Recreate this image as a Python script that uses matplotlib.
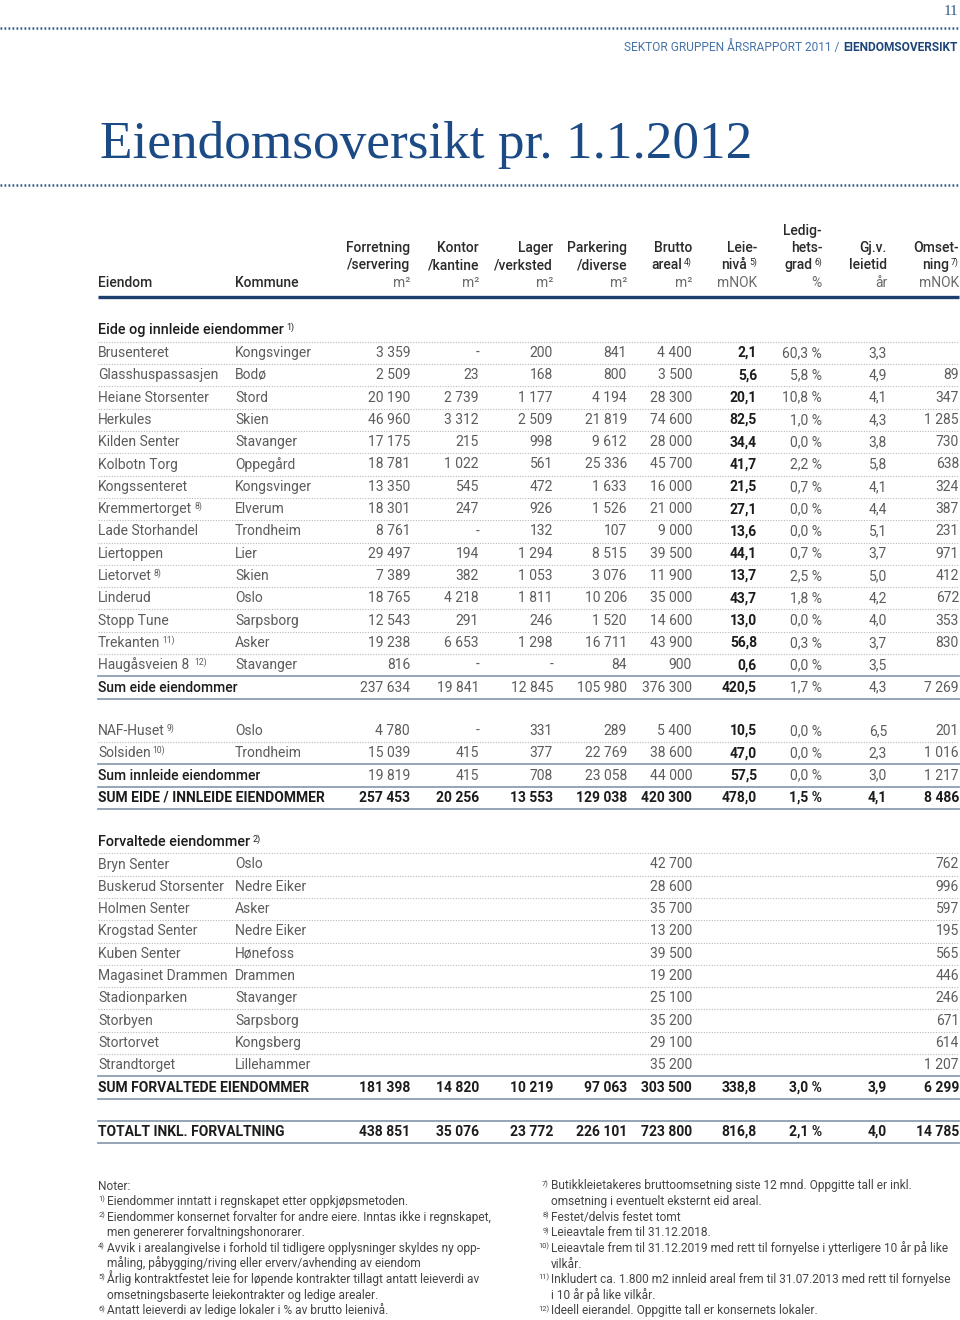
import matplotlib
matplotlib.use('Agg')
import matplotlib.pyplot as plt

# ---- data -------------------------------------------------------------
eide_names = ["Brusenteret", "Glasshuspassasjen", "Heiane Storsenter", "Herkules",
              "Kilden Senter", "Kolbotn Torg", "Kongssenteret", "Kremmertorget",
              "Lade Storhandel", "Liertoppen", "Lietorvet", "Linderud",
              "Stopp Tune", "Trekanten", "Haugåsveien 8 "]
eide_notes = ["", "", "", "", "", "", "", "8)", "", "", "8)", "", "", "11)", "12)"]
eide_kommune = ["Kongsvinger", "Bodø", "Stord", "Skien", "Stavanger", "Oppegård",
                "Kongsvinger", "Elverum", "Trondheim", "Lier", "Skien", "Oslo",
                "Sarpsborg", "Asker", "Stavanger"]
eide_forretning = [3359, 2509, 20190, 46960, 17175, 18781, 13350, 18301, 8761, 29497,
                   7389, 18765, 12543, 19238, 816]
eide_kontor = [None, 23, 2739, 3312, 215, 1022, 545, 247, None, 194, 382, 4218, 291,
               6653, None]
eide_lager = [200, 168, 1177, 2509, 998, 561, 472, 926, 132, 1294, 1053, 1811, 246,
              1298, None]
eide_parkering = [841, 800, 4194, 21819, 9612, 25336, 1633, 1526, 107, 8515, 3076,
                  10206, 1520, 16711, 84]
eide_brutto = [4400, 3500, 28300, 74600, 28000, 45700, 16000, 21000, 9000, 39500,
               11900, 35000, 14600, 43900, 900]
eide_leie = [2.1, 5.6, 20.1, 82.5, 34.4, 41.7, 21.5, 27.1, 13.6, 44.1, 13.7, 43.7,
             13.0, 56.8, 0.6]
eide_ledig = [60.3, 5.8, 10.8, 1.0, 0.0, 2.2, 0.7, 0.0, 0.0, 0.7, 2.5, 1.8, 0.0, 0.3, 0.0]
eide_leietid = [3.3, 4.9, 4.1, 4.3, 3.8, 5.8, 4.1, 4.4, 5.1, 3.7, 5.0, 4.2, 4.0, 3.7, 3.5]
eide_omsetning = [None, 89, 347, 1285, 730, 638, 324, 387, 231, 971, 412, 672, 353,
                  830, None]
sum_eide = [237634, 19841, 12845, 105980, 376300, 420.5, 1.7, 4.3, 7269]

innleide_names = ["NAF-Huset", "Solsiden"]
innleide_notes = ["9)", "10)"]
innleide_kommune = ["Oslo", "Trondheim"]
innleide_values = [[4780, None, 331, 289, 5400, 10.5, 0.0, 6.5, 201],
                   [15039, 415, 377, 22769, 38600, 47.0, 0.0, 2.3, 1016]]
sum_innleide = [19819, 415, 708, 23058, 44000, 57.5, 0.0, 3.0, 1217]
sum_eide_innleide = [257453, 20256, 13553, 129038, 420300, 478.0, 1.5, 4.1, 8486]

forv_names = ["Bryn Senter", "Buskerud Storsenter", "Holmen Senter", "Krogstad Senter",
              "Kuben Senter", "Magasinet Drammen", "Stadionparken", "Storbyen",
              "Stortorvet", "Strandtorget"]
forv_kommune = ["Oslo", "Nedre Eiker", "Asker", "Nedre Eiker", "Hønefoss", "Drammen",
                "Stavanger", "Sarpsborg", "Kongsberg", "Lillehammer"]
forv_brutto = [42700, 28600, 35700, 13200, 39500, 19200, 25100, 35200, 29100, 35200]
forv_omsetning = [762, 996, 597, 195, 565, 446, 246, 671, 614, 1207]
sum_forv = [181398, 14820, 10219, 97063, 303500, 338.8, 3.0, 3.9, 6299]
totalt = [438851, 35076, 23772, 226101, 723800, 816.8, 2.1, 4.0, 14785]

headers = [("", "Forretning", "/servering", "", "m²"),
           ("", "Kontor", "/kantine", "", "m²"),
           ("", "Lager", "/verksted", "", "m²"),
           ("", "Parkering", "/diverse", "", "m²"),
           ("", "Brutto", "areal", "4)", "m²"),
           ("", "Leie-", "nivå", "5)", "mNOK"),
           ("Ledig-", "hets-", "grad", "6)", "%"),
           ("", "Gj.v.", "leietid", "", "år"),
           ("", "Omset-", "ning", "7)", "mNOK")]

notes_left = [("", "Noter:"),
              ("1)", "Eiendommer inntatt i regnskapet etter oppkjøpsmetoden."),
              ("2)", "Eiendommer konsernet forvalter for andre eiere. Inntas ikke i regnskapet,"),
              ("", "men genererer forvaltningshonorarer."),
              ("4)", "Avvik i arealangivelse i forhold til tidligere opplysninger skyldes ny opp-"),
              ("", "måling, påbygging/riving eller erverv/avhending av eiendom"),
              ("5)", "Årlig kontraktfestet leie for løpende kontrakter tillagt antatt leieverdi av"),
              ("", "omsetningsbaserte leiekontrakter og ledige arealer."),
              ("6)", "Antatt leieverdi av ledige lokaler i % av brutto leienivå.")]
notes_right = [("7)", "Butikkleietakeres bruttoomsetning siste 12 mnd. Oppgitte tall er inkl."),
               ("", "omsetning i eventuelt eksternt eid areal."),
               ("8)", "Festet/delvis festet tomt"),
               ("9)", "Leieavtale frem til 31.12.2018."),
               ("10)", "Leieavtale frem til 31.12.2019 med rett til fornyelse i ytterligere 10 år på like"),
               ("", "vilkår."),
               ("11)", "Inkludert ca. 1.800 m2 innleid areal frem til 31.07.2013 med rett til fornyelse"),
               ("", "i 10 år på like vilkår."),
               ("12)", "Ideell eierandel. Oppgitte tall er konsernets lokaler.")]

# ---- styling ----------------------------------------------------------
plt.rcParams['font.family'] = ['Roboto', 'DejaVu Sans']
NAVY = '#1d4579'
GREY = '#5c5c5c'
DARK = '#1c1c1c'
FS = 10

col_right = [410, 479, 553, 627, 692, 757, 822, 887, 959]
x_name, x_komm, x_end = 98, 235, 959

fig = plt.figure(figsize=(9.6, 13.2), dpi=100)
ax = fig.add_axes([0, 0, 1, 1])
ax.set_xlim(0, 960)
ax.set_ylim(1320, 0)
ax.axis('off')
rend = fig.canvas.get_renderer()


def width(t):
    return t.get_window_extent(renderer=rend).width


def put(x, y, s, ha='left', sup='', size=FS, color=GREY, weight='normal'):
    # y is the visual centre of the line, baseline sits a bit below
    base = y + 0.4 * size
    if ha == 'left':
        t = ax.text(x, base, s, ha='left', va='baseline', fontsize=size,
                    color=color, fontweight=weight)
        if sup:
            ax.text(x + width(t) + 2, base - 0.4 * size, sup, ha='left',
                    va='baseline', fontsize=size * 0.62, color=color)
    else:
        shift = 0
        if sup:
            ts = ax.text(x, base - 0.4 * size, sup, ha='right', va='baseline',
                         fontsize=size * 0.62, color=color)
            shift = width(ts) + 2
        ax.text(x - shift, base, s, ha='right', va='baseline', fontsize=size,
                color=color, fontweight=weight)


def fmt_int(v, blank='-'):
    if v is None:
        return blank
    return f"{v:,}".replace(",", " ")


def fmt_dec(v):
    return f"{v:.1f}".replace(".", ",")


def row_strings(vals):
    out = [fmt_int(v) for v in vals[:5]]
    out += [fmt_dec(vals[5]), fmt_dec(vals[6]) + " %", fmt_dec(vals[7]),
            fmt_int(vals[8], blank='')]
    return out


def draw_row(y, name, note, komm, strs, style='normal'):
    if style == 'total':
        put(x_name, y, name, color=DARK, weight='bold')
    elif style == 'sum':
        put(x_name, y, name, color=DARK, weight='medium')
    else:
        put(x_name, y, name, sup=note)
        put(x_komm, y, komm)
    for i, s in enumerate(strs):
        if not s:
            continue
        if style == 'total':
            put(col_right[i], y, s, ha='right', color=DARK, weight='bold')
        elif i == 5:
            put(col_right[i], y, s, ha='right', color=DARK, weight='bold')
        else:
            put(col_right[i], y, s, ha='right')


def dotted(y):
    ax.plot([x_name, x_end], [y, y], color='#b8b8b8', lw=0.8,
            linestyle=(0, (1, 1.4)), solid_capstyle='butt')


def solid(y):
    ax.plot([x_name, x_end], [y, y], color='#8e9db2', lw=1.3)


# ---- page head --------------------------------------------------------
for yy in (28, 185):
    ax.plot([0, 960], [yy, yy], color='#2e5a8c', lw=1.8,
            linestyle=(0, (0.7, 0.9)), solid_capstyle='butt')
ax.text(958, 15, "11", ha='right', va='baseline', fontsize=11,
        family='Liberation Serif', color='#2e5a8c')
tb = ax.text(958, 51, "EIENDOMSOVERSIKT", ha='right', va='baseline', fontsize=8.6,
             color=NAVY, fontweight='bold')
ax.text(958 - width(tb) - 1, 51, "SEKTOR GRUPPEN ÅRSRAPPORT 2011 / ", ha='right',
        va='baseline', fontsize=8.6, color='#4573a8')
ax.text(100, 158, "Eiendomsoversikt pr. 1.1.2012", ha='left', va='baseline',
        fontsize=38.3, family='Liberation Serif', color='#1b4a84')

# ---- column header ----------------------------------------------------
hy = [231, 248, 265, 283]
for i, (l0, l1, l2, sup, unit) in enumerate(headers):
    if l0:
        put(col_right[i], hy[0], l0, ha='right', color='#2b2b2b', weight='medium')
    put(col_right[i], hy[1], l1, ha='right', color='#2b2b2b', weight='medium')
    put(col_right[i], hy[2], l2, ha='right', sup=sup, color='#2b2b2b', weight='medium')
    put(col_right[i], hy[3], unit, ha='right', color='#6a6a6a')
put(x_name, hy[3], "Eiendom", color='#2b2b2b', weight='medium')
put(x_komm, hy[3], "Kommune", color='#2b2b2b', weight='medium')
ax.plot([x_name, x_end], [297, 297], color='#1d3f6e', lw=2.4, solid_capstyle='butt')

# ---- eide eiendommer --------------------------------------------------
step = 22.3
put(x_name, 330, "Eide og innleide eiendommer", sup="1)", size=10.4, color=DARK,
    weight='medium')
y0 = 353
dotted(y0 - step / 2)
for i, name in enumerate(eide_names):
    y = y0 + i * step
    vals = [eide_forretning[i], eide_kontor[i], eide_lager[i], eide_parkering[i],
            eide_brutto[i], eide_leie[i], eide_ledig[i], eide_leietid[i],
            eide_omsetning[i]]
    draw_row(y, name, eide_notes[i], eide_kommune[i], row_strings(vals))
    if i < len(eide_names) - 1:
        dotted(y + step / 2)
    else:
        solid(y + step / 2)
y = y0 + len(eide_names) * step
draw_row(y, "Sum eide eiendommer", "", "", row_strings(sum_eide), style='sum')
solid(y + step / 2)

# ---- innleide ---------------------------------------------------------
y1 = 731
for i, name in enumerate(innleide_names):
    y = y1 + i * step
    draw_row(y, name, innleide_notes[i], innleide_kommune[i],
             row_strings(innleide_values[i]))
    if i < len(innleide_names) - 1:
        dotted(y + step / 2)
    else:
        solid(y + step / 2)
y = y1 + len(innleide_names) * step
draw_row(y, "Sum innleide eiendommer", "", "", row_strings(sum_innleide), style='sum')
solid(y + step / 2)
y += step
draw_row(y, "SUM EIDE / INNLEIDE EIENDOMMER", "", "", row_strings(sum_eide_innleide),
         style='total')
solid(y + step / 2)

# ---- forvaltede -------------------------------------------------------
put(x_name, 842, "Forvaltede eiendommer", sup="2)", size=10.4, color=DARK,
    weight='medium')
y2 = 864.5
dotted(y2 - step / 2)
for i, name in enumerate(forv_names):
    y = y2 + i * step
    strs = ["", "", "", "", fmt_int(forv_brutto[i]), "", "", "",
            fmt_int(forv_omsetning[i])]
    draw_row(y, name, "", forv_kommune[i], strs)
    if i < len(forv_names) - 1:
        dotted(y + step / 2)
    else:
        solid(y + step / 2)
y = y2 + len(forv_names) * step
draw_row(y, "SUM FORVALTEDE EIENDOMMER", "", "", row_strings(sum_forv), style='total')
solid(y + step / 2)

yt = 1132
solid(yt - step / 2)
draw_row(yt, "TOTALT INKL. FORVALTNING", "", "", row_strings(totalt), style='total')
solid(yt + step / 2)

# ---- notes ------------------------------------------------------------
nstep = 15.6
for i, (mark, txt) in enumerate(notes_left):
    y = 1186 + i * nstep
    base = y + 3.5
    if mark:
        ax.text(105, base - 3.5, mark, ha='right', va='baseline', fontsize=5.4, color='#444')
    ax.text(98 if txt == "Noter:" else 107, base, txt, ha='left', va='baseline',
            fontsize=8.6, color='#444')
for i, (mark, txt) in enumerate(notes_right):
    y = 1186 + i * nstep
    base = y + 3.5
    if mark:
        ax.text(549, base - 3.5, mark, ha='right', va='baseline', fontsize=5.4, color='#444')
    ax.text(551, base, txt, ha='left', va='baseline', fontsize=8.6, color='#444')

fig.savefig('out.png', dpi=100, facecolor='white')
